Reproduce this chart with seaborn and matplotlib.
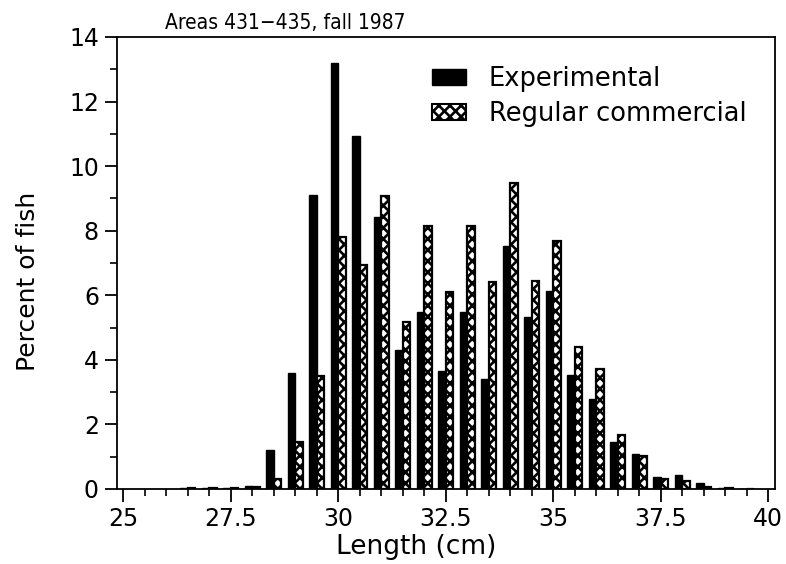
import matplotlib
matplotlib.use("Agg")
import matplotlib.pyplot as plt
from matplotlib.patches import Patch
from matplotlib.ticker import MultipleLocator
import seaborn as sns
import pandas as pd

lengths = [26.5, 27.0, 27.5, 28.0, 28.5, 29.0, 29.5, 30.0, 30.5, 31.0, 31.5, 32.0,
           32.5, 33.0, 33.5, 34.0, 34.5, 35.0, 35.5, 36.0, 36.5, 37.0, 37.5, 38.0,
           38.5, 39.0, 39.5]
experimental = [0.02, 0.03, 0.03, 0.10, 1.21, 3.59, 9.10, 13.20, 10.93, 8.41, 4.29, 5.48,
                3.64, 5.47, 3.42, 7.53, 5.34, 6.13, 3.52, 2.80, 1.44, 1.08, 0.36, 0.44,
                0.18, 0.03, 0.0]
commercial = [0.02, 0.02, 0.03, 0.05, 0.31, 1.44, 3.51, 7.80, 6.95, 9.08, 5.16, 8.14,
              6.09, 8.14, 6.40, 9.48, 6.44, 7.68, 4.39, 3.72, 1.66, 1.03, 0.31, 0.24,
              0.05, 0.03, 0.0]
series_names = ["Experimental", "Regular commercial"]
title = "Areas 431\u2212435, fall 1987"
xlabel = "Length (cm)"
ylabel = "Percent of fish"
xticks = [25, 27.5, 30, 32.5, 35, 37.5, 40]
xticklabels = ["25", "27.5", "30", "32.5", "35", "37.5", "40"]
yticks = [0, 2, 4, 6, 8, 10, 12, 14]

df = pd.DataFrame({
    "Length": lengths * 2,
    "Percent": experimental + commercial,
    "Series": [series_names[0]] * len(lengths) + [series_names[1]] * len(lengths),
})

sns.set_theme(style="ticks")
plt.rcParams["font.family"] = ["DejaVu Sans"]
plt.rcParams["hatch.linewidth"] = 1.9
plt.rcParams["text.color"] = "black"
plt.rcParams["axes.labelcolor"] = "black"
plt.rcParams["xtick.color"] = "black"
plt.rcParams["ytick.color"] = "black"
plt.rcParams["hatch.color"] = "black"

fig = plt.figure(figsize=(7.86, 5.64), dpi=100)
ax = fig.add_axes([0.1489, 0.133, 0.8372, 0.8014])

sns.barplot(data=df, x="Length", y="Percent", hue="Series", native_scale=True,
            palette=["black", "white"], width=0.7, gap=0, dodge=True,
            edgecolor="black", linewidth=1.0, errorbar=None, legend=False, ax=ax)

for bar in ax.containers[1]:
    bar.set_facecolor("white")
    bar.set_edgecolor("black")
    bar.set_hatch("xxx")
    bar.set_linewidth(1.6)

ax.set_xlim(24.86, 40.16)
ax.set_ylim(0, 14)
ax.set_xticks(xticks)
ax.set_xticklabels(xticklabels)
ax.xaxis.set_minor_locator(MultipleLocator(0.5))
ax.set_yticks(yticks)
ax.yaxis.set_minor_locator(MultipleLocator(1))
ax.tick_params(axis="both", which="major", labelsize=17, length=9, width=1.3,
               direction="out", pad=4)
ax.tick_params(axis="both", which="minor", length=5, width=1.2, direction="out")
for s in ax.spines.values():
    s.set_visible(True)
    s.set_linewidth(1.3)
    s.set_color("black")

ax.set_xlabel(xlabel, fontsize=19)
ax.xaxis.set_label_coords(0.454, -0.100)
ax.set_ylabel(ylabel, fontsize=18)
ax.yaxis.set_label_coords(-0.117, 0.46)

ax.text(0.073, 1.017, title, transform=ax.transAxes, ha="left", va="baseline",
        fontsize=15, fontstretch="condensed",
        family=["Liberation Sans Narrow", "DejaVu Sans"])

handles = [Patch(facecolor="black", edgecolor="black"),
           Patch(facecolor="white", edgecolor="black", hatch="xxx", linewidth=1.5)]
ax.legend(handles, series_names, loc="upper left", bbox_to_anchor=(0.479, 0.935),
          frameon=False, fontsize=18.5, handlelength=1.3, handleheight=0.6,
          handletextpad=0.9, labelspacing=0.35, borderpad=0, borderaxespad=0)

fig.savefig("out.png", dpi=100)
